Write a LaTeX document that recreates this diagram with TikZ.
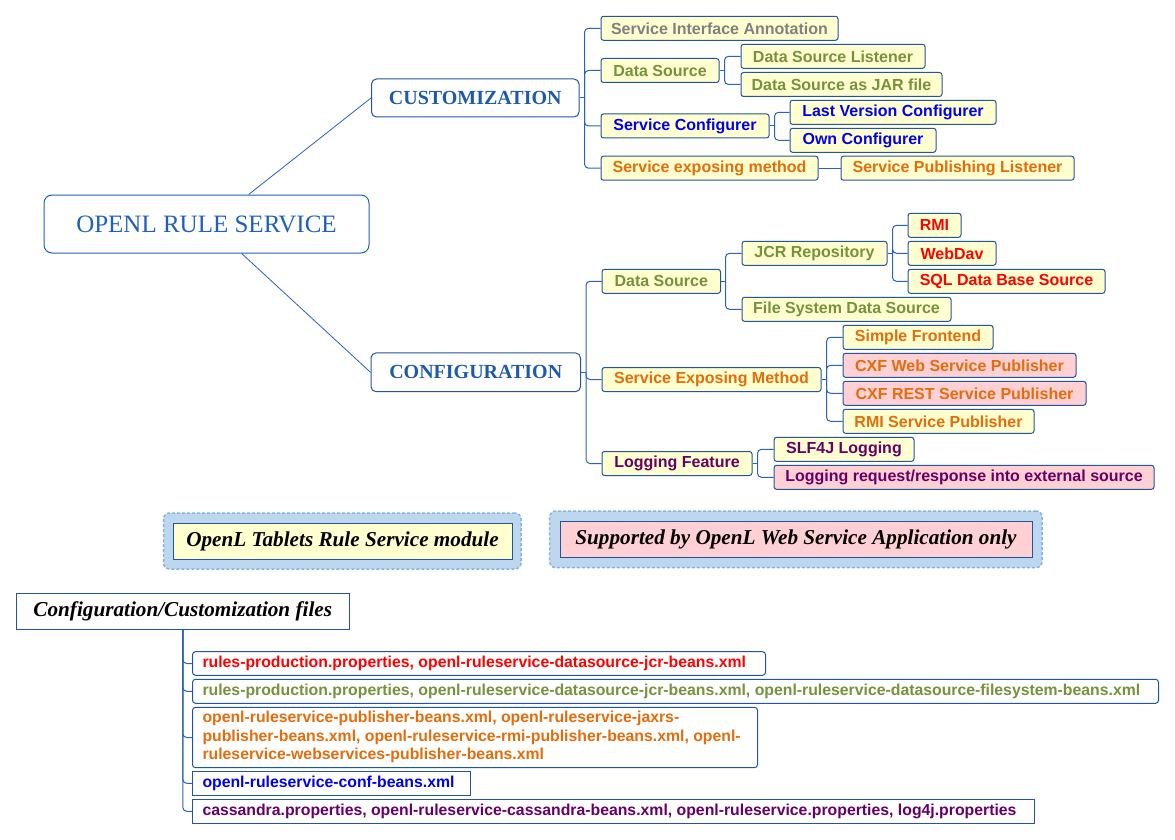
\documentclass[tikz,border=0pt]{standalone}
\usepackage{fontspec}
\setmainfont{Liberation Sans}
\newfontfamily\serifx{Liberation Serif}
\definecolor{bord}{HTML}{2255A0}
\definecolor{linec}{HTML}{2A62BC}
\definecolor{yel}{HTML}{FFFFD0}
\definecolor{pnk}{HTML}{FFD0D4}
\definecolor{lblue}{HTML}{BDD7EE}
\definecolor{dashc}{HTML}{86B4E0}
\definecolor{tgray}{HTML}{808080}
\definecolor{tolive}{HTML}{76923C}
\definecolor{tblue}{HTML}{0000F0}
\definecolor{torange}{HTML}{E46C0A}
\definecolor{tred}{HTML}{FF0000}
\definecolor{tpurple}{HTML}{660066}
\definecolor{thead}{HTML}{1E5AAA}
\definecolor{troot}{HTML}{1F5FBF}
\tikzset{
  lbl/.style={draw=bord, line width=1pt, rounded corners=2.5pt, fill=yel,
    minimum height=24pt, inner sep=1pt,
    font=\bfseries\fontsize{16}{19}\selectfont},
  head/.style={draw=bord, line width=1pt, rounded corners=5pt, fill=white,
    minimum height=38pt, inner sep=1pt, text=thead,
    font=\serifx\bfseries\fontsize{20}{24}\selectfont},
  conn/.style={draw=linec, line width=1pt, rounded corners=4pt},
  thin/.style={draw=linec, line width=0.8pt},
  legout/.style={draw=dashc, dashed, dash pattern=on 3pt off 2pt, line width=1.5pt,
    fill=lblue, rounded corners=6pt, inner sep=0pt},
  leg/.style={draw=bord, line width=1pt, inner sep=1pt,
    font=\serifx\bfseries\itshape\fontsize{21.2}{24}\selectfont},
  filebox/.style={draw=bord, line width=1pt, rounded corners=3pt, fill=white,
    inner xsep=10pt, inner ysep=1pt, anchor=west,
    font=\bfseries\fontsize{15.8}{18.5}\selectfont}
}
\newcommand{\fbline}[2]{\makebox[#1][l]{#2}}
\begin{document}
\begin{tikzpicture}[x=1pt,y=-1pt]
\useasboundingbox[fill=white] (0,0) rectangle (1175,840);

% root and headings
\node[draw=troot, line width=1pt, rounded corners=8pt, fill=white,
  minimum width=325pt, minimum height=58pt, inner sep=1pt, text=troot,
  font=\serifx\fontsize{25}{30}\selectfont] (root) at (206.5,224) {OPENL RULE SERVICE};
\node[head, minimum width=207.5pt] (cust) at (475.25,98) {CUSTOMIZATION};
\node[head, minimum width=209.5pt, minimum height=38.7pt] (conf) at (475.75,372.3) {CONFIGURATION};
\draw[thin] (root.35.6) -- (cust.west);
\draw[thin] (root.-40.8) -- (conf.west);

% customization branch
\node[lbl, text=tgray, minimum width=237pt] (sia) at (719.5,28.3) {Service Interface Annotation};
\node[lbl, text=tolive, minimum width=118pt] (dsa) at (660,70.5) {Data Source};
\node[lbl, text=tolive, minimum width=184pt] (dsl) at (833,56.3) {Data Source Listener};
\node[lbl, text=tolive, minimum width=201pt] (dsj) at (841.5,84.5) {Data Source as JAR file};
\node[lbl, text=tblue, minimum width=168pt] (sc) at (685,126) {Service Configurer};
\node[lbl, text=tblue, minimum width=206pt] (lvc) at (893,112.3) {Last Version Configurer};
\node[lbl, text=tblue, minimum width=146pt] (oc) at (863,140.3) {Own Configurer};
\node[lbl, text=torange, minimum width=217pt] (sema) at (709.5,168.2) {Service exposing method};
\node[lbl, text=torange, minimum width=233pt] (spl) at (957.5,168.2) {Service Publishing Listener};

\path (cust.east) ++(5,0) coordinate (tc);
\draw[conn] (cust.east) -- (tc);
\draw[conn] (tc) |- (sia.west);
\draw[conn] (tc) |- (dsa.west);
\draw[conn] (tc) |- (sc.west);
\draw[conn] (tc) |- (sema.west);
\path (dsa.east) ++(5,0) coordinate (tdsa);
\draw[conn] (dsa.east) -- (tdsa);
\draw[conn] (tdsa) |- (dsl.west);
\draw[conn] (tdsa) |- (dsj.west);
\path (sc.east) ++(5,0) coordinate (tsc);
\draw[conn] (sc.east) -- (tsc);
\draw[conn] (tsc) |- (lvc.west);
\draw[conn] (tsc) |- (oc.west);
\draw[conn] (sema.east) -- (spl.west);

% configuration branch
\node[lbl, text=tolive, minimum width=118.5pt] (dsb) at (661.25,281.3) {Data Source};
\node[lbl, text=tolive, minimum width=145pt] (jcr) at (814.5,253.3) {JCR Repository};
\node[lbl, text=tred, minimum width=53pt] (rmi) at (934.5,225.3) {RMI};
\node[lbl, text=tred, minimum width=88pt] (wdav) at (952,253.3) {WebDav};
\node[lbl, text=tred, minimum width=197pt] (sql) at (1006.5,281.3) {SQL Data Base Source};
\node[lbl, text=tolive, minimum width=209pt] (fsds) at (846.5,309.3) {File System Data Source};
\node[lbl, text=torange, minimum width=219pt] (semb) at (711.5,379.5) {Service Exposing Method};
\node[lbl, text=torange, minimum width=150pt] (sf) at (918,337.3) {Simple Frontend};
\node[lbl, text=torange, fill=pnk, minimum width=233pt] (cxfw) at (959.5,365.3) {CXF Web Service Publisher};
\node[lbl, text=torange, fill=pnk, minimum width=243pt] (cxfr) at (964.5,393.3) {CXF REST Service Publisher};
\node[lbl, text=torange, minimum width=191pt] (rmisp) at (938.5,421.3) {RMI Service Publisher};
\node[lbl, text=tpurple, minimum width=150pt] (logf) at (677,463.5) {Logging Feature};
\node[lbl, text=tpurple, minimum width=140pt] (slf) at (844,449.3) {SLF4J Logging};
\node[lbl, text=tpurple, fill=pnk, minimum width=380pt] (lreq) at (964,477.3) {Logging request/response into external source};

\path (conf.east) ++(5,0) coordinate (tf);
\draw[conn] (conf.east) -- (tf);
\draw[conn] (tf) |- (dsb.west);
\draw[conn] (tf) |- (semb.west);
\draw[conn] (tf) |- (logf.west);
\path (dsb.east) ++(4.5,0) coordinate (tdsb);
\draw[conn] (dsb.east) -- (tdsb);
\draw[conn] (tdsb) |- (jcr.west);
\draw[conn] (tdsb) |- (fsds.west);
\path (jcr.east) ++(5,0) coordinate (tjcr);
\draw[conn] (jcr.east) -- (tjcr);
\draw[conn] (tjcr) |- (rmi.west);
\draw[conn] (tjcr) |- (wdav.west);
\draw[conn] (tjcr) |- (sql.west);
\path (semb.east) ++(5,0) coordinate (tsem);
\draw[conn] (semb.east) -- (tsem);
\draw[conn] (tsem) |- (sf.west);
\draw[conn] (tsem) |- (cxfw.west);
\draw[conn] (tsem) |- (cxfr.west);
\draw[conn] (tsem) |- (rmisp.west);
\path (logf.east) ++(5,0) coordinate (tlog);
\draw[conn] (logf.east) -- (tlog);
\draw[conn] (tlog) |- (slf.west);
\draw[conn] (tlog) |- (lreq.west);

% legend
\node[legout, minimum width=357.5pt, minimum height=56pt] (lgao) at (342.25,541) {};
\node[leg, fill=yel, minimum width=339pt, minimum height=36pt] (lga) at (342.5,541.3) {OpenL Tablets Rule Service module};
\node[legout, minimum width=492.3pt, minimum height=56.7pt] (lgbo) at (795.85,539.35) {};
\node[leg, fill=pnk, minimum width=472pt, minimum height=35.6pt] (lgb) at (796,539.5) {Supported by OpenL Web Service Application only};

% files
\node[leg, fill=white, minimum width=332.5pt, minimum height=36pt] (cfg) at (182.75,611.3) {Configuration/Customization files};
\node[filebox, text=tred, minimum height=23.6pt] (fa) at (192,663.5) {\fbline{553pt}{rules-production.properties, openl-ruleservice-datasource-jcr-beans.xml}};
\node[filebox, text=tolive, minimum height=24pt] (fb) at (192,691.3) {\fbline{946pt}{rules-production.properties, openl-ruleservice-datasource-jcr-beans.xml, openl-ruleservice-datasource-filesystem-beans.xml}};
\node[filebox, text=torange, minimum height=60.4pt] (fc) at (192,737.5) {\fbline{545pt}{\begin{tabular}{@{}l@{}}openl-ruleservice-publisher-beans.xml, openl-ruleservice-jaxrs-\\publisher-beans.xml, openl-ruleservice-rmi-publisher-beans.xml, openl-\\ruleservice-webservices-publisher-beans.xml\end{tabular}}};
\node[filebox, text=tblue, rounded corners=0pt, minimum height=24pt] (fd) at (192,783.3) {\fbline{258pt}{openl-ruleservice-conf-beans.xml}};
\node[filebox, text=tpurple, rounded corners=0pt, minimum height=24pt] (fe) at (192,811.3) {\fbline{822pt}{cassandra.properties, openl-ruleservice-cassandra-beans.xml, openl-ruleservice.properties, log4j.properties}};
\draw[conn] (cfg.south) |- (fa.west);
\draw[conn] (cfg.south) |- (fb.west);
\draw[conn] (cfg.south) |- (fc.west);
\draw[conn] (cfg.south) |- (fd.west);
\draw[conn] (cfg.south) |- (fe.west);
\end{tikzpicture}
\end{document}
